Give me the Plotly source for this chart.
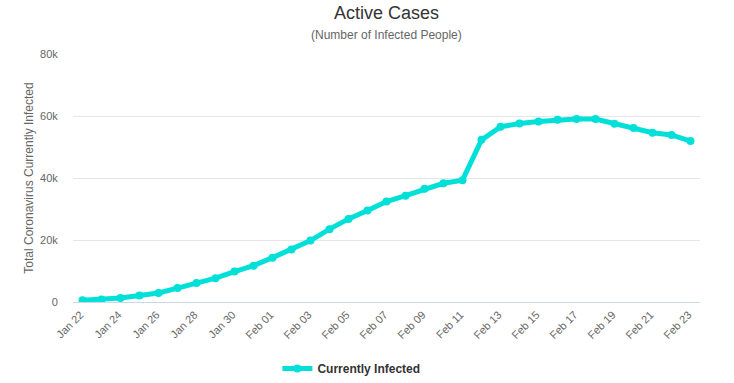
import plotly.graph_objects as go
import pandas as pd

dates = pd.date_range("2020-01-22", "2020-02-23", freq="D")
active_k = [0.55, 0.8, 1.3, 2.1, 2.9, 4.5, 6.1, 7.7, 9.8, 11.7, 14.3, 16.9, 19.8,
            23.5, 26.8, 29.5, 32.4, 34.3, 36.5, 38.3, 39.3, 52.3, 56.5, 57.6, 58.2,
            58.8, 59.0, 59.0, 57.5, 56.1, 54.6, 53.9, 51.9]
active = [v * 1000 for v in active_k]

tick_dates = pd.date_range("2020-01-22", "2020-02-23", freq="2D")
tick_text = [d.strftime("%b %d") for d in tick_dates]
y_ticks = [0, 20000, 40000, 60000, 80000]
y_text = ["0", "20k", "40k", "60k", "80k"]

color = "#00e0d8"

fig = go.Figure()
fig.add_trace(go.Scatter(
    x=dates, y=active, mode="lines+markers", name="Currently Infected",
    line=dict(color=color, width=5),
    marker=dict(color=color, size=8),
))

fig.update_layout(
    width=734, height=383,
    paper_bgcolor="white", plot_bgcolor="white",
    margin=dict(l=73, r=34, t=54, b=81, autoexpand=False),
    font=dict(family="Liberation Sans, Arial, sans-serif", color="#666666", size=11),
    showlegend=True,
    legend=dict(orientation="h", x=0.444, xanchor="center", y=-0.21, yanchor="top",
                font=dict(size=12, color="#333333", weight="bold")),
    xaxis=dict(
        range=[pd.Timestamp("2020-01-21 12:00"), pd.Timestamp("2020-02-23 12:00")],
        tickvals=tick_dates, ticktext=tick_text, tickangle=-45, automargin=False,
        showgrid=False, showline=True, linecolor="#ccd6eb", linewidth=1,
        ticks="", zeroline=False, tickfont=dict(size=11, color="#666666"),
        ticklabelshift=-2, ticklabelstandoff=1,
    ),
    yaxis=dict(
        range=[0, 80000], tickvals=y_ticks, ticktext=y_text, automargin=False,
        showgrid=True, gridcolor="#e6e6e6", gridwidth=1, zeroline=False,
        showline=False, ticks="outside", ticklen=12, tickcolor="rgba(0,0,0,0)",
        tickfont=dict(size=11, color="#666666"),
        title=dict(text="Total Coronavirus Currently Infected",
                   font=dict(size=12, color="#666666"), standoff=3),
    ),
)
fig.add_annotation(text="Active Cases", xref="paper", yref="paper", x=0.5, y=1.0,
                   xanchor="center", yanchor="middle", showarrow=False,
                   font=dict(size=18, color="#333333"), yshift=54 - 13)
fig.add_annotation(text="(Number of Infected People)", xref="paper", yref="paper",
                   x=0.5, y=1.0, xanchor="center", yanchor="middle", showarrow=False,
                   font=dict(size=12, color="#666666"), yshift=54 - 35)

fig.write_html("out.html", config={"displayModeBar": False},
               post_script="document.body.style.margin='0px';document.body.style.overflow='hidden';")
